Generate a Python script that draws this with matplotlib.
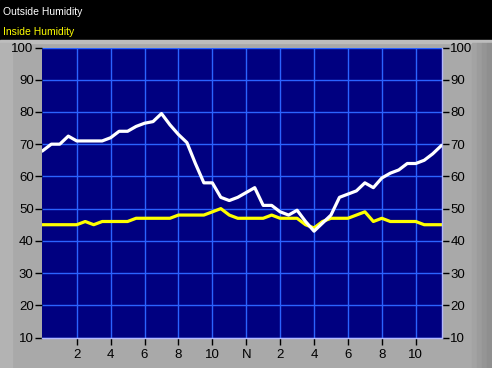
import numpy as np
import matplotlib.pyplot as plt
from matplotlib.patches import Rectangle

# half-hour readings, midnight to 23:30
hours = np.arange(0, 24, 0.5)

outside = [68, 70, 70, 72.5, 71, 71, 71, 71, 72, 74, 74, 75.5,
           76.5, 77, 79.5, 76, 73, 70.5, 64, 58, 58, 53.5, 52.5, 53.5,
           55, 56.5, 51, 51, 49, 48, 49.5, 46, 43, 45.5, 48, 53.5,
           54.5, 55.5, 58, 56.5, 59.5, 61, 62, 64, 64, 65, 67, 69.5]

inside = [45, 45, 45, 45, 45, 46, 45, 46, 46, 46, 46, 47,
          47, 47, 47, 47, 48, 48, 48, 48, 49, 50, 48, 47,
          47, 47, 47, 48, 47, 47, 47, 45, 44, 46, 47, 47,
          47, 48, 49, 46, 47, 46, 46, 46, 46, 45, 45, 45]

x_ticks = [2, 4, 6, 8, 10, 12, 14, 16, 18, 20, 22]
x_labels = ['2', '4', '6', '8', '10', 'N', '2', '4', '6', '8', '10']
y_ticks = list(range(10, 101, 10))

plt.rcParams['font.family'] = ['Liberation Sans', 'DejaVu Sans']

W, H = 492, 368
fig = plt.figure(figsize=(W / 100, H / 100), dpi=100)
fig.patch.set_facecolor('#a9a9a9')

# window chrome: black header, light left strip, shaded right edge
fig.add_artist(Rectangle((0, 1 - 40 / H), 1, 40 / H, transform=fig.transFigure,
                         color='black', zorder=0))
fig.add_artist(Rectangle((0, 1 - 43 / H), 1, 3 / H, transform=fig.transFigure,
                         color='#bdbdbd', zorder=0))
fig.add_artist(Rectangle((0, 0), 12 / W, 1 - 43 / H, transform=fig.transFigure,
                         color='#b3b3b3', zorder=0))
for i, c in enumerate(['#a3a3a3', '#9c9c9c', '#959595', '#8f8f8f']):
    fig.add_artist(Rectangle(((472 + i * 5) / W, 0), 5 / W, 1 - 43 / H,
                             transform=fig.transFigure, color=c, zorder=0))

fig.text(3 / W, 1 - 12 / H, 'Outside Humidity', color='white', fontsize=7.5,
         va='center', ha='left')
fig.text(3 / W, 1 - 32 / H, 'Inside Humidity', color='yellow', fontsize=7.5,
         va='center', ha='left')

ax = fig.add_axes([42 / W, 1 - 337.5 / H, 400 / W, 290 / H])
ax.set_facecolor('#000080')
ax.plot(hours, outside, color='white', lw=2.3, zorder=3)
ax.plot(hours, inside, color='#ffff00', lw=2.3, zorder=2)

ax.set_xlim(-0.05, 23.55)
ax.set_ylim(10, 100)
ax.set_xticks(x_ticks)
ax.set_xticklabels(x_labels)
ax.set_yticks(y_ticks)
ax.grid(True, color='#2b63ff', lw=1.0)
ax.set_axisbelow(True)

ax.tick_params(axis='both', colors='black', labelsize=9.5, length=5, width=1,
               direction='out')
ax.tick_params(axis='y', left=True, right=True, labelleft=True, labelright=True,
               pad=1)
ax.tick_params(axis='x', pad=3)
for side, s in ax.spines.items():
    if side in ('right', 'bottom'):
        s.set_color('#b4b8ff')
        s.set_linewidth(1)
    else:
        s.set_visible(False)

fig.savefig('out.png', dpi=100, facecolor=fig.get_facecolor())
